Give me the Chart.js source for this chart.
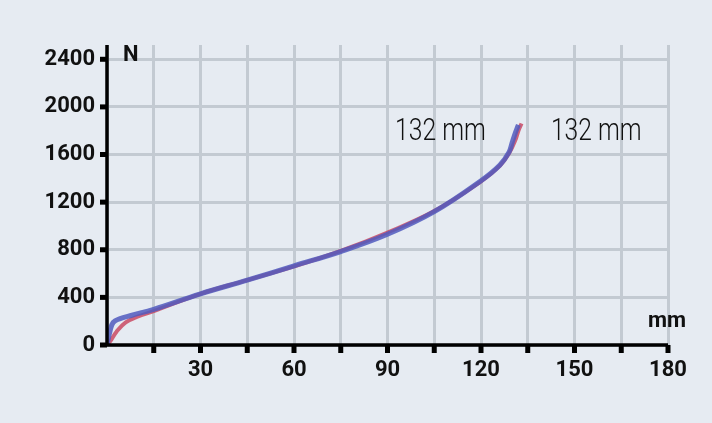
<!DOCTYPE html><html><head><meta charset="utf-8">
<script src="https://cdn.jsdelivr.net/npm/chart.js@4"></script>
<style>html,body{margin:0;background:#e6ebf2}</style></head><body>
<canvas id="c" width="712" height="423"></canvas>
<script>
const blueX=[0,1,2,4,8,15,30,45,60,75,90,105,120,126,129,130,131,132];
const blueY=[0,120,190,220,250,300,430,545,665,785,930,1120,1380,1510,1620,1700,1780,1850];
const redX=[0,1,3,6,10,15,30,45,60,75,90,105,120,126,129,131,132,133];
const redY=[0,30,110,190,240,285,430,545,660,790,945,1125,1375,1505,1610,1720,1800,1860];
const xTicks=[30,60,90,120,150,180];
const yTicks=[0,400,800,1200,1600,2000,2400];
const notes=[{x:107,y:1790,t:'132 mm'},{x:157,y:1790,t:'132 mm'}];
const pts=(xs,ys)=>xs.map((x,i)=>({x,y:ys[i]}));
const tickFont={family:'Roboto, sans-serif',size:22,weight:'bold'};
const deco={id:'deco',afterDraw(ch){const c=ch.ctx,a=ch.chartArea,xs=ch.scales.x,ys=ch.scales.y;
c.save();c.strokeStyle='#000';c.lineWidth=3.5;c.beginPath();c.moveTo(a.left,a.top);c.lineTo(a.left,a.bottom);c.lineTo(a.right,a.bottom);c.stroke();
c.lineWidth=5;for(let v=15;v<=180;v+=15){const p=xs.getPixelForValue(v);c.beginPath();c.moveTo(p,a.bottom);c.lineTo(p,a.bottom+8);c.stroke();}
for(const v of yTicks){const p=ys.getPixelForValue(v);c.beginPath();c.moveTo(a.left-7,p);c.lineTo(a.left,p);c.stroke();}
c.fillStyle='#111';c.font='bold 22px Roboto, sans-serif';c.textBaseline='middle';
c.textAlign='left';c.fillText('N',a.left+16,ys.getPixelForValue(2400)-4);
c.textAlign='right';c.fillText('mm',a.right+18,a.bottom-24);
c.textAlign='center';
for(const n of notes){c.save();c.translate(xs.getPixelForValue(n.x),ys.getPixelForValue(n.y));c.scale(0.85,1.1);c.font='300 29px Roboto, sans-serif';c.fillText(n.t,0,0);c.restore();}
c.restore();}};
new Chart(document.getElementById('c'),{type:'scatter',
data:{datasets:[
{data:pts(blueX,blueY),showLine:true,borderColor:'rgba(80,90,190,0.85)',borderWidth:5,pointRadius:0,tension:0.4,order:1},
{data:pts(redX,redY),showLine:true,borderColor:'rgba(200,64,90,0.8)',borderWidth:4,pointRadius:0,tension:0.4,order:2}]},
options:{responsive:false,animation:false,plugins:{legend:{display:false},tooltip:{enabled:false}},
layout:{padding:{left:0,top:45,right:44,bottom:0}},
scales:{x:{type:'linear',min:0,max:180,border:{display:false},grid:{color:'#c3cad2',lineWidth:3,drawTicks:false},
 afterBuildTicks:s=>{s.ticks=[];for(let v=0;v<=180;v+=15)s.ticks.push({value:v});},
 ticks:{color:'#111',font:tickFont,padding:12,callback:v=>xTicks.includes(v)?v:''},afterFit:s=>{s.height=78;}},
 y:{min:0,max:2520,border:{display:false},grid:{color:'#c3cad2',lineWidth:3,drawTicks:false},
 afterBuildTicks:s=>{s.ticks=[];for(let v=0;v<=2400;v+=200)s.ticks.push({value:v});},
 ticks:{color:'#111',font:tickFont,padding:12,callback:v=>yTicks.includes(v)?v:''},afterFit:s=>{s.width=107;}}}},
plugins:[deco]});
</script></body></html>
